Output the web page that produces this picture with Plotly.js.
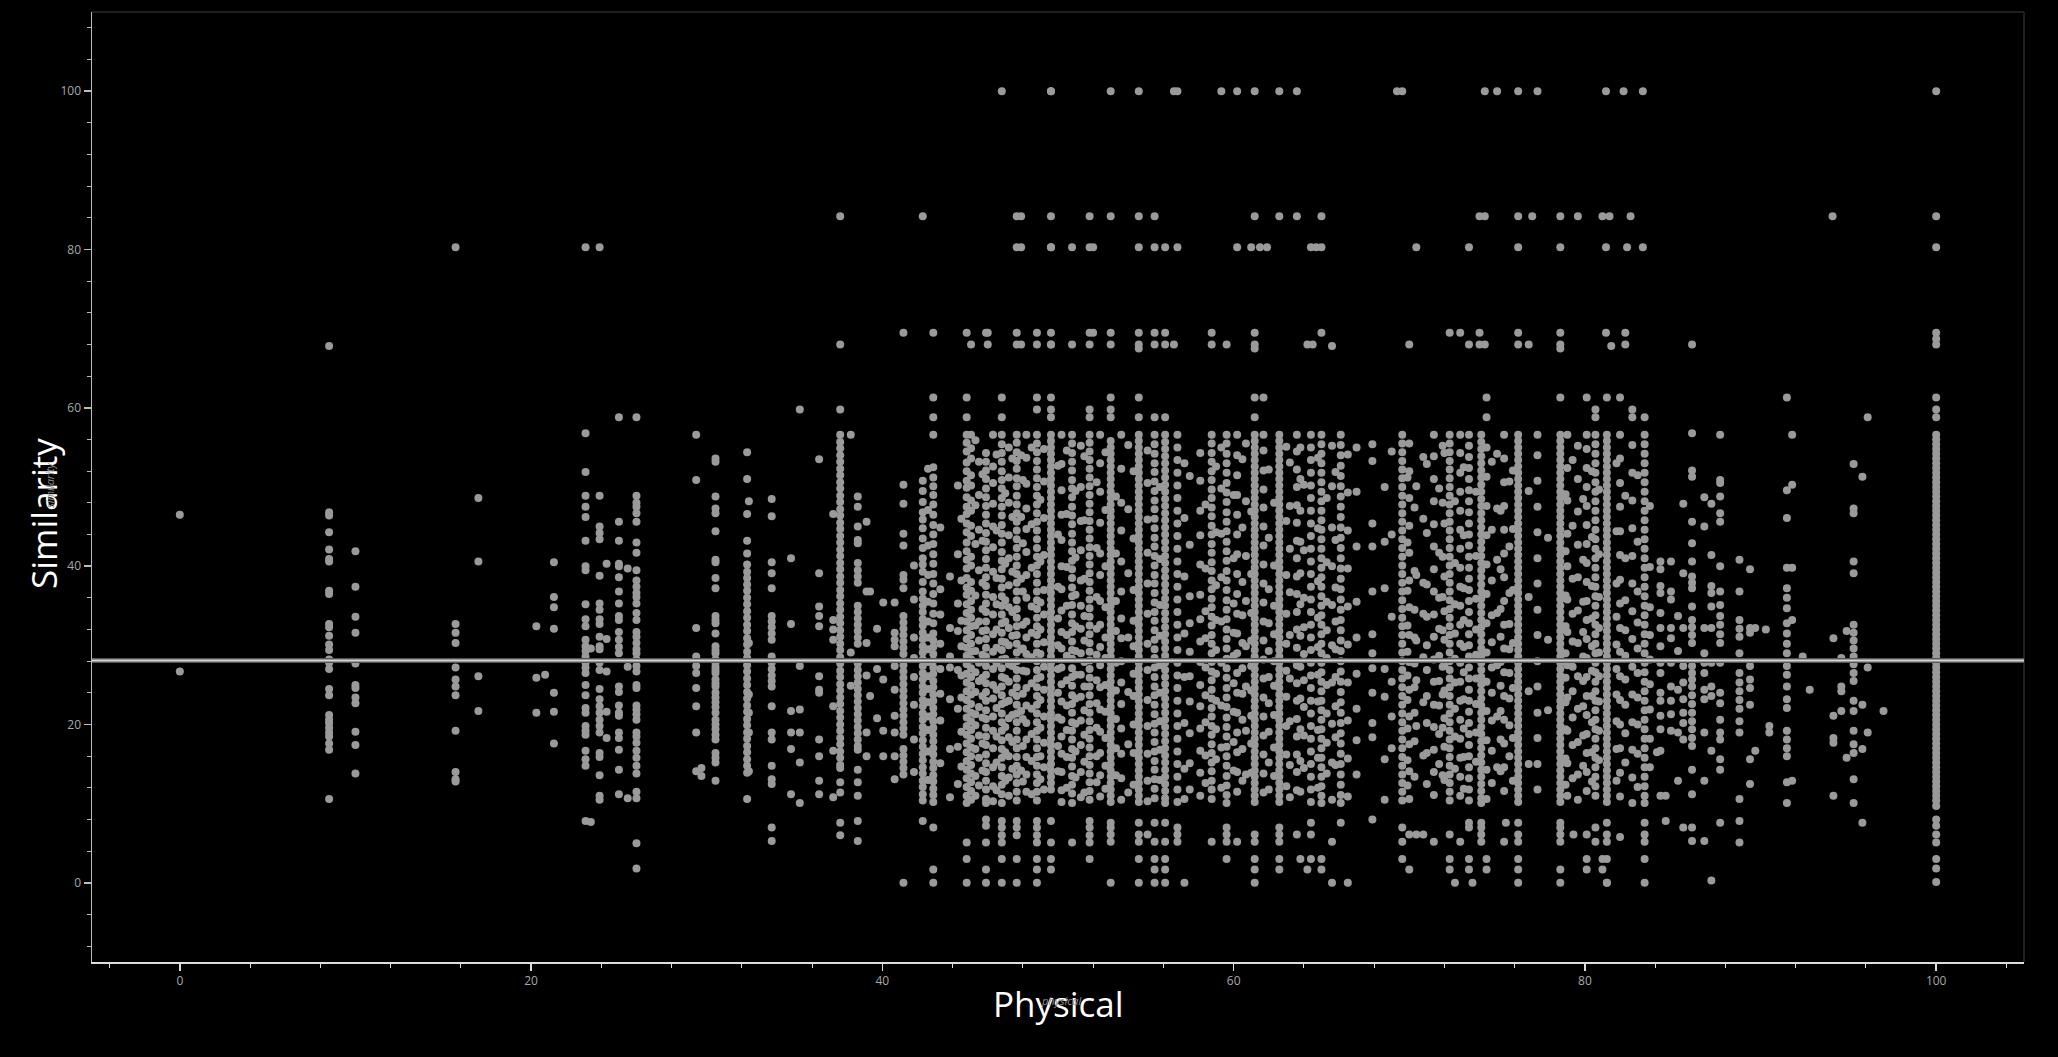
<!DOCTYPE html>
<html>
<head>
<meta charset="utf-8">
<script src="https://cdn.plot.ly/plotly-3.0.1.min.js"></script>
<style>
  html, body { margin: 0; padding: 0; background: #000; }
  #myDiv { width: 2058px; height: 1057px; }
</style>
</head>
<body>
<div id="myDiv"></div>
<script>
// Each column: [Physical value, "Similarity values in that column"]
// sparse left part of the chart
var leftCols = [
  [0, "46.5 26.7"],
  [8.5, "67.8 46.8 46.4 44.3 42.1 40.9 40.6 36.9 36.5 32.7 32.3 31.2 30.1 29.4 28.2 27.8 27.0 24.5 23.7 21.2 20.6 20.2 19.6 19.0 18.5 17.6 16.8 10.6"],
  [10.0, "41.9 37.4 33.6 31.6 27.7 25.0 24.6 23.4 22.7 19.1 17.4 13.8"],
  [15.7, "80.3 32.7 31.6 30.3 27.2 25.7 24.8 23.7 19.2 14.0 13.1 12.8"],
  [17.0, "48.6 40.6 26.1 21.7"],
  [20.3, "32.4 25.9 21.5"],
  [20.8, "26.3"],
  [21.3, "40.5 36.1 34.8 32.1 24.0 21.6 17.6"],
  [23.1, "80.3 56.8 51.9 48.9 47.5 46.2 43.2 40.0 39.5 35.2 33.3 32.4 30.7 29.9 29.3 28.6 27.8 27.2 26.5 25.0 23.7 22.1 21.5 19.8 19.2 18.7 16.7 15.6 14.8 7.8"],
  [23.4, "7.7 29.6"],
  [23.9, "80.3 48.9 45.0 44.2 43.4 38.8 35.3 34.5 33.3 32.7 31.1 29.9 29.5 27.8 26.9 24.5 23.2 22.3 21.5 20.6 19.8 19.0 16.4 15.9 13.6 11.0 10.5"],
  [24.3, "40.3 30.8 26.7 21.6 18.3"],
  [25.0, "58.8 45.6 43.2 40.3 40.0 38.6 36.8 35.3 33.7 33.2 31.7 30.7 29.8 29.0 24.8 24.1 22.4 21.5 21.1 19.0 18.3 16.8 14.3 11.2"],
  [25.5, "39.7 27.3 10.7"],
  [26.0, "58.8 48.9 48.0 47.5 46.7 45.6 43.0 41.7 39.5 38.2 37.4 36.6 36.1 35.3 34.1 33.2 31.7 31.1 30.3 29.5 29.0 28.2 27.4 26.7 25.0 24.6 22.4 21.9 21.3 20.6 19.0 18.5 17.7 16.7 15.8 14.8 13.8 11.5 10.7 5.0 1.8"]
];

// 29 - 44
var midCols = [
  [29.4, "56.6 50.9 32.2 28.6 27.4 26.5 24.6 22.3 19.0 14.1"],
  [29.7, "14.5 13.5"],
  [30.5, "53.6 53.2 48.8 47.3 46.7 44.4 40.8 40.5 38.5 37.2 33.7 33.2 32.8 31.5 29.9 29.4 29.0 28.2 27.8 27.3 26.9 26.5 25.7 25.2 24.8 24.0 23.4 22.8 22.2 21.5 20.6 20.0 19.4 18.7 18.1 16.4 15.8 15.2 12.9"],
  [32.3, "54.4 51.0 46.6 43.2 41.6 40.2 39.3 38.5 37.7 36.9 36.0 35.2 34.3 33.5 32.6 31.8 30.9 30.1 29.2 28.4 27.5 26.7 25.8 25.0 24.1 23.3 22.4 21.6 20.7 19.9 19.0 18.2 17.3 16.5 15.6 14.8 13.9 10.6"],
  [32.4, "48.2 30.3 23.8 21.5 19.0 14.1"],
  [33.7, "48.5 46.3 40.5 39.1 37.2 33.7 33.0 32.3 31.5 30.7 28.6 27.8 27.0 26.2 25.5 24.8 22.3 19.0 18.1 14.8 13.1 12.5 7.0 5.3"],
  [34.8, "41.0 32.7 21.7 19.0 16.9 11.2"],
  [35.3, "59.8 27.4 21.9 19.0 15.2 10.1"],
  [36.4, "53.5 39.1 34.9 33.7 32.4 26.1 24.4 24.0 18.1 16.0 12.9 11.2"],
  [37.2, "46.6 33.2 32.0 30.7 22.3 16.7 10.8"],
  [37.6, "84.2 68.0 59.8 56.6 55.7 54.9 54.0 53.2 52.3 51.5 50.6 49.8 48.9 48.1 47.2 46.4 45.5 44.7 43.8 43.0 42.1 41.3 40.4 39.6 38.7 37.9 37.0 36.2 35.3 34.5 33.6 32.8 31.9 31.1 30.2 29.4 28.5 27.7 26.8 26.0 25.1 24.3 23.4 22.6 21.7 20.9 20.0 19.2 18.3 17.5 16.6 15.8 14.9 14.5 12.7 11.4 7.6 6.0"],
  [38.2, "56.6 29.1 24.9"],
  [38.6, "48.8 47.5 45.0 43.3 42.9 40.4 39.5 38.7 37.9 35.0 34.2 33.4 32.6 31.8 31.0 30.2 27.7 26.9 26.1 25.3 24.5 23.7 22.9 22.1 21.3 20.5 19.7 18.9 18.1 17.3 16.8 14.3 12.7 11.0 7.8 5.3"],
  [39.1, "45.6 36.8 30.3 26.2 19.0 16.0"],
  [39.3, "36.8 23.6"],
  [39.7, "32.1 27.0 20.8"],
  [40.05, "35.4 25.7 19.2 16.0"],
  [40.7, "35.4 31.6 30.7 29.9 27.4 24.4 21.1 19.0 16.0 13.1"],
  [41.2, "69.5 50.3 47.9 44.1 42.6 38.9 38.3 37.2 33.7 32.9 32.1 31.3 30.5 29.7 28.9 27.5 26.7 25.9 25.1 24.3 23.5 22.7 21.9 21.1 20.3 19.5 18.7 16.9 16.1 15.3 14.5 13.7 0.0"],
  [41.8, "40.1 35.8 31.0 28.4 26.0 22.5 18.1 14.0"],
  [42.3, "84.2 50.8 49.5 48.1 46.8 45.9 44.8 43.5 42.3 41.0 40.2 39.3 38.0 36.8 35.9 35.0 34.2 33.3 32.5 31.6 30.8 29.9 29.1 28.2 27.4 26.5 25.7 24.8 24.0 23.1 22.3 21.4 20.6 19.7 18.9 18.0 17.2 16.3 15.5 14.6 13.8 12.9 12.1 11.2 10.4 7.8"],
  [42.6, "52.3 47.1 42.6 38.9 35.5 33.0 31.0 29.5 27.9 26.1 24.5 22.8 21.0 19.3 16.6 13.0"],
  [42.9, "69.5 61.3 58.8 56.6 52.5 51.2 50.1 49.0 47.8 46.5 45.2 44.0 42.8 41.5 40.3 39.0 37.8 36.5 35.3 34.0 32.8 31.5 30.6 29.8 28.9 28.1 27.2 26.4 25.5 24.7 23.8 23.0 22.1 21.3 20.4 19.6 18.7 17.9 17.0 16.2 15.3 14.5 13.6 12.8 11.9 11.1 10.2 7.0 1.7 0.0"],
  [43.3, "44.9 37.1 33.9 30.2 27.0 23.9 20.5 15.1"],
  [43.85, "38.7 32.2 28.6 27.2 23.2 16.9 10.8"],
  [44.3, "50.2 41.5 35.3 31.8 26.9 22.0 17.2 12.5"]
];

// dense band 44 - 84
var denseCols = [
  [44.8, "69.5 61.3 58.8 56.6 55.6 54.5 53.1 52.0 50.8 49.9 48.7 47.5 46.6 45.4 44.3 43.0 41.9 40.8 39.7 38.5 37.3 36.4 35.2 34.1 33.0 31.9 30.8 29.7 28.7 27.6 26.4 25.3 24.2 23.1 22.0 20.9 19.8 18.7 17.6 16.5 15.4 14.3 13.2 12.1 11.0 10.1 5.1 3.0 0.0"],
  [45.05, "68.0 56.6 54.9 53.6 51.5 50.2 48.3 47.0 45.1 43.8 41.2 40.1 38.0 36.9 35.6 34.5 33.5 32.4 31.3 30.2 29.2 28.2 27.1 26.0 24.9 23.8 22.6 21.5 20.4 19.3 18.2 17.1 16.0 14.9 13.8 12.7 11.6 10.5"],
  [45.5, "53.2 49.0 44.6 39.5 33.0 30.6 27.8 25.5 22.2 18.6 15.8 12.3"],
  [45.9, "69.5 54.3 53.2 52.1 51.0 49.8 48.7 47.6 46.5 45.4 44.2 43.1 42.0 40.9 39.8 38.6 37.5 36.4 35.3 34.2 33.0 31.9 30.8 29.7 28.6 27.4 26.3 25.2 24.1 23.0 21.8 20.7 19.6 18.5 17.4 16.2 15.1 14.0 12.9 11.8 10.6 10.1 8.0 7.2 5.1 1.7 0.0"],
  [46.0, "69.5 68.0"],
  [46.3, "56.6 52.6 50.5 47.9 45.0 42.4 39.3 36.1 33.9 31.4 29.2 27.0 25.0 23.3 21.0 19.2 17.0 14.6 12.2 10.3"],
  [46.8, "100 61.3 58.8 56.6 55.4 54.3 53.2 52.0 50.9 49.8 48.6 47.5 46.4 45.2 44.1 43.0 41.8 40.7 39.6 38.4 37.3 36.2 35.0 33.9 32.8 31.6 30.5 29.4 28.2 27.1 26.0 24.8 23.7 22.6 21.4 20.3 19.2 18.0 16.9 15.8 14.6 13.5 12.4 11.2 10.1 7.8 7.0 6.0 5.1 3.0 0.0"],
  [47.2, "55.0 51.2 48.0 43.9 41.0 37.6 34.8 32.2 30.0 27.6 25.4 23.0 20.8 18.4 16.0 13.3 11.0"],
  [47.65, "84.2 80.3 69.5 68.0 56.6 55.6 54.4 53.3 52.3 51.1 50.1 48.9 47.8 46.7 45.6 44.5 43.4 42.3 41.2 40.1 39.0 37.9 36.8 35.7 34.6 33.5 32.4 31.3 30.2 29.1 28.0 26.9 25.8 24.7 23.6 22.5 21.4 20.3 19.2 18.1 17.0 15.9 14.8 13.7 12.6 11.5 10.4 7.8 7.0 6.0 3.0 0.0"],
  [47.9, "84.2 80.3 68.0 54.0 46.2 38.4 29.5 21.7 14.2"],
  [48.2, "56.6 53.7 50.4 47.3 44.7 41.8 38.9 36.0 33.0 31.0 28.9 26.7 24.6 22.4 20.2 18.1 15.9 13.7 11.5"],
  [48.8, "69.5 68.0 61.3 59.8 56.6 55.5 54.4 53.3 52.2 51.1 50.0 48.9 47.8 46.7 45.6 44.5 43.4 42.3 41.2 40.1 39.0 37.9 36.8 35.7 34.6 33.5 32.4 31.3 30.2 29.1 28.0 26.9 25.8 24.7 23.6 22.5 21.4 20.3 19.2 18.1 17.0 15.9 14.8 13.7 12.6 11.5 10.4 7.8 7.0 6.0 5.1 3.0 1.7 0.0"],
  [49.2, "54.8 50.7 46.1 41.4 37.0 33.9 30.4 27.3 24.4 21.0 17.7 14.6 11.8"],
  [49.6, "100 100 84.2 80.3 80.3 69.5 68.0 68.0 61.3 59.8 58.8 56.6 55.8 55.0 54.2 53.4 52.6 51.8 51.0 50.2 49.4 48.6 47.8 47.0 46.2 45.4 44.6 43.8 43.0 42.2 41.4 40.6 39.8 39.0 38.2 37.4 36.6 35.8 35.0 34.2 33.4 32.6 31.8 31.0 30.2 29.4 28.6 27.8 27.0 26.2 25.4 24.6 23.8 23.0 22.2 21.4 20.6 19.8 19.0 18.2 17.4 16.6 15.8 15.0 14.2 13.4 12.6 11.8 7.8 5.1 3.0 1.7"],
  [50.2, "56.6 52.9 49.6 46.5 43.3 40.0 37.1 34.4 31.7 29.6 27.2 25.1 22.9 20.6 18.5 16.3 14.0 11.7 10.2"],
  [50.8, "80.3 68.0 56.6 55.5 54.3 53.2 52.1 50.9 49.8 48.7 47.5 46.4 45.3 44.1 43.0 41.9 40.7 39.6 38.5 37.3 36.2 35.1 33.9 32.8 31.7 30.5 29.4 28.3 27.1 26.0 24.9 23.7 22.6 21.5 20.3 19.2 18.1 16.9 15.8 14.7 13.5 12.4 11.3 10.1 5.1"],
  [51.3, "55.2 50.0 45.7 42.0 38.2 35.0 32.1 29.0 26.3 23.5 20.5 17.4 14.0 10.8"],
  [51.8, "84.2 80.3 69.5 68.0 59.8 58.8 56.6 55.6 54.5 53.4 52.3 51.2 50.1 49.0 47.9 46.8 45.7 44.6 43.5 42.4 41.3 40.2 39.1 38.0 36.9 35.8 34.7 33.6 32.5 31.4 30.3 29.2 28.1 27.0 25.9 24.8 23.7 22.6 21.5 20.4 19.3 18.2 17.1 16.0 14.9 13.8 12.7 11.6 10.5 7.8 7.0 6.0 5.1 3.0"],
  [52.0, "80.3 69.5"],
  [52.4, "56.6 53.0 49.4 45.5 41.6 38.9 35.6 32.6 29.8 27.5 24.7 21.9 19.1 16.4 13.6 10.9"],
  [53.0, "100 84.2 69.5 68.0 61.3 59.8 58.8 55.8 55.0 54.2 53.4 52.6 51.8 51.0 50.2 49.4 48.6 47.8 47.0 46.2 45.4 44.6 43.8 43.0 42.2 41.4 40.6 39.8 39.0 38.2 37.4 36.6 35.8 35.0 34.2 33.4 32.6 31.8 31.0 30.2 29.4 28.6 27.8 27.0 26.2 25.4 24.6 23.8 23.0 22.2 21.4 20.6 19.8 19.0 18.2 17.4 16.6 15.8 15.0 14.2 13.4 12.6 11.8 11.0 10.2 7.6 7.0 6.1 5.2 0.0"],
  [53.6, "56.6 52.3 48.0 44.5 40.6 36.8 33.4 30.9 28.0 25.3 22.6 19.5 16.3 13.2 10.5"],
  [54.0, "55.3 47.2 39.1 31.0 24.1 17.5 11.4"],
  [54.6, "100 84.2 80.3 69.5 68.0 67.5 61.3 58.8 56.6 55.8 55.0 54.2 53.4 52.6 51.8 51.0 50.2 49.4 48.6 47.8 47.0 46.2 45.4 44.6 43.8 43.0 42.2 41.4 40.6 39.8 39.0 38.2 37.4 36.6 35.8 35.0 34.2 33.4 32.6 31.8 31.0 30.2 29.4 28.6 27.8 27.0 26.2 25.4 24.6 23.8 23.0 22.2 21.4 20.6 19.8 19.0 18.2 17.4 16.6 15.8 15.0 14.2 13.4 12.6 11.8 11.0 10.2 7.6 6.1 5.2 3.0 0.0"],
  [55.1, "54.6 50.5 45.9 41.7 37.8 34.0 30.2 26.9 23.1 19.8 16.3 12.9 10.3 6.1"],
  [55.5, "84.2 80.3 69.5 68.0 58.8 56.6 55.4 54.2 53.0 51.9 50.7 49.5 48.3 47.2 46.0 44.8 43.6 42.5 41.3 40.1 38.9 37.8 36.6 35.4 34.2 33.1 31.9 30.7 29.5 28.4 27.2 26.0 24.8 23.7 22.5 21.3 20.1 19.0 17.8 16.6 15.4 14.3 13.1 11.9 10.7 7.6 5.2 3.0 1.7 0.0"],
  [56.1, "80.3 69.5 68.0 58.8 56.6 55.7 54.8 53.9 53.0 52.1 51.2 50.3 49.4 48.5 47.6 46.7 45.8 44.9 44.0 43.1 42.2 41.3 40.4 39.5 38.6 37.7 36.8 35.9 35.0 34.1 33.2 32.3 31.4 30.5 29.6 28.7 27.8 26.9 26.0 25.1 24.2 23.3 22.4 21.5 20.6 19.7 18.8 17.9 17.0 16.1 15.2 14.3 13.4 12.5 11.6 10.7 10.1 7.6 5.2 3.0 1.7 0.0"],
  [56.6, "100 68.0"],
  [56.8, "100 80.3 56.6 55.0 53.4 51.8 50.2 48.6 47.0 45.4 43.8 42.2 40.6 39.0 37.4 35.8 34.2 32.6 31.0 29.4 27.8 26.2 24.6 23.0 21.4 19.8 18.2 16.6 15.0 13.4 11.8 10.2 7.0 6.1 5.2"],
  [57.2, "53.0 46.1 38.7 31.5 26.0 20.2 14.4 10.6 0.0"],
  [58.1, "54.3 50.8 47.0 43.9 40.2 36.4 33.3 30.5 27.9 25.0 22.3 19.5 16.7 13.9 11.0"],
  [58.75, "69.5 68.0 56.6 55.5 54.3 53.2 52.0 50.9 49.7 48.6 47.4 46.3 45.1 44.0 42.8 41.7 40.5 39.4 38.2 37.1 35.9 34.8 33.6 32.5 31.3 30.2 29.0 27.9 26.7 25.6 24.4 23.3 22.1 21.0 19.8 18.7 17.5 16.4 15.2 14.1 12.9 11.8 10.6 5.2"],
  [59.3, "100 55.0 49.8 44.1 38.6 33.0 27.8 22.4 17.1 12.0"],
  [59.6, "68.0 56.6 55.5 54.2 53.0 51.8 50.5 49.3 48.1 46.8 45.6 44.4 43.1 41.9 40.7 39.4 38.2 37.0 35.7 34.5 33.3 32.0 30.8 29.6 28.3 27.1 25.9 24.6 23.4 22.2 20.9 19.7 18.5 17.2 16.0 14.8 13.5 12.3 11.1 10.1 7.0 6.1 5.2 3.0"],
  [60.2, "100 80.3 56.6 54.0 51.5 49.0 46.5 44.0 41.5 39.0 36.5 34.0 31.5 29.0 26.5 24.0 21.5 19.0 16.5 14.0 11.5 5.2"],
  [60.7, "55.5 48.2 41.3 35.6 29.9 24.8 19.2 13.7"],
  [61.0, "80.3"],
  [61.2, "100 84.2 69.5 68.0 67.5 61.3 58.8 56.6 55.8 55.0 54.2 53.4 52.6 51.8 51.0 50.2 49.4 48.6 47.8 47.0 46.2 45.4 44.6 43.8 43.0 42.2 41.4 40.6 39.8 39.0 38.2 37.4 36.6 35.8 35.0 34.2 33.4 32.6 31.8 31.0 30.2 29.4 28.6 27.8 27.0 26.2 25.4 24.6 23.8 23.0 22.2 21.4 20.6 19.8 19.0 18.2 17.4 16.6 15.8 15.0 14.2 13.4 12.6 11.8 11.0 10.2 6.1 5.2 3.0 1.7 0.0"],
  [61.5, "80.3"],
  [61.7, "61.3 56.6 54.6 52.1 49.7 47.4 45.0 42.6 40.2 37.8 35.4 33.0 30.6 28.2 25.8 23.4 21.0 18.6 16.2 13.8 11.4"],
  [61.9, "80.3"],
  [62.6, "100 84.2 56.6 55.8 55.0 54.2 53.4 52.6 51.8 51.0 50.2 49.4 48.6 47.8 47.0 46.2 45.4 44.6 43.8 43.0 42.2 41.4 40.6 39.8 39.0 38.2 37.4 36.6 35.8 35.0 34.2 33.4 32.6 31.8 31.0 30.2 29.4 28.6 27.8 27.0 26.2 25.4 24.6 23.8 23.0 22.2 21.4 20.6 19.8 19.0 18.2 17.4 16.6 15.8 15.0 14.2 13.4 12.6 11.8 11.0 10.2 7.0 6.1 5.2 3.0 1.7"],
  [63.2, "53.1 47.6 42.2 36.7 31.3 25.8 20.4 14.9 10.8"],
  [63.6, "100 84.2 56.6 54.5 52.2 50.0 47.7 45.5 43.2 41.0 38.7 36.5 34.2 32.0 29.7 27.5 25.2 23.0 20.7 18.5 16.2 14.0 11.7 6.1"],
  [63.8, "55.0 51.0 47.0 43.1 39.1 35.2 31.2 27.3 23.3 19.4 15.4 11.5 3.0"],
  [64.2, "68.0 1.7"],
  [64.4, "80.3 56.6 55.0 53.4 51.8 50.2 48.6 47.0 45.4 43.8 42.2 40.6 39.0 37.4 35.8 34.2 32.6 31.0 29.4 27.8 26.2 24.6 23.0 21.4 19.8 18.2 16.6 15.0 13.4 11.8 10.2 7.6 6.1 3.0"],
  [64.5, "68.0"],
  [64.7, "80.3"],
  [65.0, "84.2 80.3 69.5 56.6 55.4 54.2 53.0 51.8 50.6 49.4 48.2 47.0 45.8 44.6 43.4 42.2 41.0 39.8 38.6 37.4 36.2 35.0 33.8 32.6 31.4 30.2 29.0 27.8 26.6 25.4 24.2 23.0 21.8 20.6 19.4 18.2 17.0 15.8 14.6 13.4 12.2 11.0 10.1 3.0 1.7"],
  [65.6, "67.8 55.2 50.1 44.9 40.0 35.1 30.0 25.3 20.1 15.2 10.5 5.2 0.0"],
  [66.1, "56.6 55.3 54.0 52.7 51.4 50.1 48.8 47.5 46.2 44.9 43.6 42.3 41.0 39.7 38.4 37.1 35.8 34.5 33.2 31.9 30.6 29.3 28.0 26.7 25.4 24.1 22.8 21.5 20.2 18.9 17.6 16.3 15.0 13.7 12.4 11.1 10.1 7.6"],
  [66.5, "54.1 49.3 44.5 39.7 34.9 30.1 25.3 20.5 15.7 10.9 0.0"],
  [67.0, "55.0 49.4 42.5 35.5 31.0 26.4 22.0 18.0 13.7"],
  [67.9, "55.4 53.3 45.4 42.5 36.8 31.4 29.0 27.1 24.0 20.2 18.4 8.0"],
  [68.6, "50.0 43.1 37.2 27.0 23.5 15.6 10.5"],
  [69.0, "54.5 44.0 33.6 25.4 21.0 17.0"],
  [69.3, "100"],
  [69.6, "100 56.6 55.5 54.4 53.3 52.2 51.1 50.0 48.9 47.8 46.7 45.6 44.5 43.4 42.3 41.2 40.1 39.0 37.9 36.8 35.7 34.6 33.5 32.4 31.3 30.2 29.1 28.0 26.9 25.8 24.7 23.6 22.5 21.4 20.3 19.2 18.1 17.0 15.9 14.8 13.7 12.6 11.5 10.4 7.0 5.2 3.0"],
  [70.0, "68.0 55.5 52.0 48.6 45.1 41.7 38.2 34.8 31.3 27.9 24.4 21.0 17.5 14.1 10.6 6.1 1.7"],
  [70.4, "80.3 50.1 38.9 30.6 25.6 19.8 6.1"],
  [70.8, "53.8 46.0 37.9 34.0 28.5 22.8 16.1 6.1"],
  [71.4, "56.6 53.9 51.0 48.2 45.3 42.5 39.6 36.8 33.9 31.1 28.2 25.4 22.5 19.7 16.8 14.0 11.1 5.2"],
  [71.9, "55.2 48.0 41.2 36.1 31.9 27.3 23.8 19.6 13.6"],
  [72.3, "69.5 56.6 55.5 54.4 53.3 52.2 51.1 50.0 48.9 47.8 46.7 45.6 44.5 43.4 42.3 41.2 40.1 39.0 37.9 36.8 35.7 34.6 33.5 32.4 31.3 30.2 29.1 28.0 26.9 25.8 24.7 23.6 22.5 21.4 20.3 19.2 18.1 17.0 15.9 14.8 13.7 12.6 11.5 10.4 6.1 3.0 1.7"],
  [72.6, "0.0"],
  [72.9, "69.5 56.6 54.3 51.8 49.4 47.0 44.6 42.2 39.8 37.4 35.0 32.6 30.2 27.8 25.4 23.0 20.6 18.2 15.8 13.4 11.0 5.2"],
  [73.4, "80.3 68.0 56.6 55.2 53.8 52.4 51.0 49.6 48.2 46.8 45.4 44.0 42.6 41.2 39.8 38.4 37.0 35.6 34.2 32.8 31.4 30.0 28.6 27.2 25.8 24.4 23.0 21.6 20.2 18.8 17.4 16.0 14.6 13.2 11.8 10.4 7.6 7.0 3.0 1.7"],
  [73.6, "0.0"],
  [74.0, "84.2 69.5 68.0"],
  [74.1, "56.6 55.7 54.8 53.9 53.0 52.1 51.2 50.3 49.4 48.5 47.6 46.7 45.8 44.9 44.0 43.1 42.2 41.3 40.4 39.5 38.6 37.7 36.8 35.9 35.0 34.1 33.2 32.3 31.4 30.5 29.6 28.7 27.8 26.9 26.0 25.1 24.2 23.3 22.4 21.5 20.6 19.7 18.8 17.9 17.0 16.1 15.2 14.3 13.4 12.5 11.6 10.7 10.1 7.6 7.0 6.1 5.2"],
  [74.3, "100 84.2 68.0"],
  [74.4, "61.3 58.8 55.0 51.3 47.6 43.9 40.2 36.5 32.8 29.1 25.4 21.7 18.0 14.3 10.6 3.0 1.7"],
  [75.0, "100 54.2 47.3 40.8 34.1 27.5 21.0 14.6"],
  [75.4, "56.6 53.6 50.6 47.6 44.6 41.6 38.6 35.6 32.6 29.6 26.6 23.6 20.6 17.6 14.6 11.6 5.2"],
  [75.5, "7.6"],
  [75.9, "52.1 44.7 37.0 30.3 24.6 18.3 12.9"],
  [76.2, "100 84.2 80.3 69.5 68.0 56.6 55.8 55.0 54.2 53.4 52.6 51.8 51.0 50.2 49.4 48.6 47.8 47.0 46.2 45.4 44.6 43.8 43.0 42.2 41.4 40.6 39.8 39.0 38.2 37.4 36.6 35.8 35.0 34.2 33.4 32.6 31.8 31.0 30.2 29.4 28.6 27.8 27.0 26.2 25.4 24.6 23.8 23.0 22.2 21.4 20.6 19.8 19.0 18.2 17.4 16.6 15.8 15.0 14.2 13.4 12.6 11.8 11.0 10.2 7.6 6.1 5.2 3.0 1.7 0.0"],
  [76.8, "68.0 49.5 36.1 24.2 15.0"],
  [77.0, "84.2"],
  [77.3, "100 56.6 54.0 50.8 47.5 44.3 41.0 37.8 34.5 31.3 28.0 24.8 21.5 18.3 15.0 11.8"],
  [77.9, "43.6 30.7 21.8"],
  [78.6, "84.2 80.3 69.5 68.0 67.5 61.3 56.6 55.8 55.0 54.2 53.4 52.6 51.8 51.0 50.2 49.4 48.6 47.8 47.0 46.2 45.4 44.6 43.8 43.0 42.2 41.4 40.6 39.8 39.0 38.2 37.4 36.6 35.8 35.0 34.2 33.4 32.6 31.8 31.0 30.2 29.4 28.6 27.8 27.0 26.2 25.4 24.6 23.8 23.0 22.2 21.4 20.6 19.8 19.0 18.2 17.4 16.6 15.8 15.0 14.2 13.4 12.6 11.8 11.0 10.2 7.6 7.0 6.1 5.2 1.7 0.0"],
  [79.0, "56.6 52.4 48.3 44.1 40.0 35.8 31.7 27.5 23.4 19.2 15.1 11.0"],
  [79.35, "6.1"],
  [79.6, "84.2 55.2 51.0 46.9 42.7 38.6 34.4 30.3 26.1 22.0 17.8 13.7 10.5"],
  [80.1, "61.3 56.6 54.8 52.4 50.0 47.6 45.2 42.8 40.4 38.0 35.6 33.2 30.8 28.4 26.0 23.6 21.2 18.8 16.4 14.0 11.6 6.1 3.0 1.7"],
  [80.6, "59.8 58.8 56.6 55.4 54.2 53.0 51.8 50.6 49.4 48.2 47.0 45.8 44.6 43.4 42.2 41.0 39.8 38.6 37.4 36.2 35.0 33.8 32.6 31.4 30.2 29.0 27.8 26.6 25.4 24.2 23.0 21.8 20.6 19.4 18.2 17.0 15.8 14.6 13.4 12.2 11.0 7.0 5.2"],
  [81.0, "84.2 3.0 1.7"],
  [81.2, "100 80.3 69.5"],
  [81.25, "61.3 56.6 55.8 55.0 54.2 53.4 52.6 51.8 51.0 50.2 49.4 48.6 47.8 47.0 46.2 45.4 44.6 43.8 43.0 42.2 41.4 40.6 39.8 39.0 38.2 37.4 36.6 35.8 35.0 34.2 33.4 32.6 31.8 31.0 30.2 29.4 28.6 27.8 27.0 26.2 25.4 24.6 23.8 23.0 22.2 21.4 20.6 19.8 19.0 18.2 17.4 16.6 15.8 15.0 14.2 13.4 12.6 11.8 11.0 10.2 7.6 6.1 5.2 3.0 0.0 0.0"],
  [81.4, "84.2"],
  [81.5, "67.8"],
  [82.0, "61.3 56.6 53.6 50.5 47.5 44.4 41.4 38.3 35.3 32.2 29.2 26.1 23.1 20.0 17.0 13.9 10.9 5.8"],
  [82.2, "100"],
  [82.3, "69.5 68.0"],
  [82.4, "80.3"],
  [82.6, "84.2"],
  [82.7, "59.8 58.8 55.3 51.8 48.3 44.8 41.3 37.8 34.3 30.8 27.3 23.8 20.3 16.8 13.3 10.1"],
  [83.3, "100 80.3"],
  [83.4, "58.8 56.6 55.4 54.2 53.0 51.8 50.6 49.4 48.2 47.0 45.8 44.6 43.4 42.2 41.0 39.8 38.6 37.4 36.2 35.0 33.8 32.6 31.4 30.2 29.0 27.8 26.6 25.4 24.2 23.0 21.8 20.6 19.4 18.2 17.0 15.8 14.6 13.4 12.2 11.0 10.1 7.6 6.1 5.2 3.0 0.0"]
];

// extra points lying between the main columns, mostly around the 20-40 band
var fillCols = [
  [44.5, "46.0 38.2 33.1 29.9 26.2 23.4 19.1 14.7"],
  [45.3, "55.9 47.7 42.8 36.3 32.5 29.3 26.6 24.1 21.3 19.9 16.9 13.5 11.0"],
  [45.7, "51.6 43.2 37.9 34.6 31.8 28.8 25.9 23.6 20.9 17.6 14.2"],
  [46.5, "54.1 44.5 38.5 35.2 32.0 29.7 27.7 24.4 22.1 18.5 15.2 11.7"],
  [47.0, "49.2 40.3 35.7 33.0 30.4 28.3 25.8 22.8 19.7 16.5 12.9"],
  [47.4, "53.6 46.2 39.3 34.2 31.2 27.4 24.0 21.2 17.8 14.4"],
  [48.0, "50.9 42.9 36.8 32.6 29.6 26.8 23.9 20.7 17.3 12.8"],
  [48.5, "55.0 45.3 39.8 34.9 31.6 28.5 25.2 22.0 18.8 15.4 11.2"],
  [49.0, "48.4 40.6 35.4 32.0 28.9 26.0 23.1 19.6 16.0 13.1"],
  [50.0, "52.7 44.0 37.4 33.4 30.0 27.0 24.0 20.9 17.3 14.1"],
  [50.5, "54.6 46.6 39.9 35.0 31.3 28.7 25.6 22.4 19.3 15.9 12.0"],
  [51.0, "49.5 41.1 36.4 32.4 29.3 26.3 23.3 20.1 16.6 13.3"],
  [51.5, "53.9 45.8 38.4 33.7 30.6 27.9 24.8 21.8 18.7 15.3 11.4"],
  [52.2, "50.6 42.3 36.1 32.1 28.8 25.6 22.7 19.6 16.0 12.7"],
  [52.7, "54.4 47.1 40.0 34.8 31.0 28.4 25.0 21.6 18.3 14.8 11.9"],
  [53.3, "48.8 41.6 35.6 31.8 27.8 24.3 20.7 17.0 13.6"],
  [54.3, "52.0 43.5 37.0 33.1 29.9 26.4 23.6 20.0 16.4 12.4"],
  [55.8, "50.0 40.9 35.1 31.2 27.5 24.0 20.4 16.8 13.0"],
  [57.5, "51.4 42.7 36.2 32.8 29.2 26.1 22.9 18.9 15.1 11.8"],
  [58.4, "47.8 39.7 34.3 30.9 27.2 23.7 20.3 16.1 12.6"],
  [59.0, "52.6 44.3 37.6 33.2 29.4 26.4 23.0 19.4 15.6"],
  [60.0, "49.0 41.0 35.3 31.6 28.7 25.2 21.6 17.8 14.2"],
  [60.5, "53.5 44.9 38.0 33.8 30.3 27.1 23.9 20.6 16.9 12.9"],
  [61.0, "46.9 39.0 34.1 30.6 27.4 24.3 21.1 17.6 13.9"],
  [62.0, "52.2 43.6 37.1 32.8 29.3 26.0 22.7 19.1 15.2 11.8"],
  [62.3, "48.0 40.1 35.0 31.4 28.0 24.9 21.2 17.1 13.5"],
  [63.0, "55.1 45.7 38.9 34.0 30.2 26.8 23.5 19.8 16.2 12.2"],
  [64.0, "50.3 42.0 36.0 32.3 28.9 25.6 22.2 18.6 14.5"],
  [64.8, "53.7 44.8 38.1 33.5 29.8 26.3 22.9 19.3 15.8 12.0"],
  [65.3, "48.6 40.5 35.5 31.9 28.4 25.0 21.4 17.7 13.8"],
  [65.8, "51.9 43.3 37.3 33.0 29.5 26.0 22.3 18.4 14.9"],
  [69.9, "51.2 43.0 36.9 32.5 29.2 26.2 23.1 19.5 15.5 12.3"],
  [70.3, "47.4 39.4 34.5 31.0 27.7 24.7 21.5 17.9 13.4"],
  [71.0, "52.9 44.2 37.7 33.6 30.0 26.9 23.6 20.2 16.4 12.5"],
  [71.7, "49.8 41.7 36.0 32.1 28.7 25.5 22.4 18.8 15.0"],
  [72.0, "54.3 45.4 38.7 34.3 30.7 27.5 24.3 20.8 17.2 13.0"],
  [72.6, "48.2 40.4 35.2 31.5 28.3 25.3 22.0 18.5 14.4"],
  [73.1, "52.5 43.9 37.2 33.2 29.8 26.6 23.2 19.5 15.9 11.9"],
  [73.8, "49.4 41.3 35.9 32.0 28.8 25.8 22.6 19.0 15.3"],
  [74.7, "53.2 44.6 38.2 33.8 30.4 27.2 24.0 20.5 16.7 12.6"],
  [75.2, "47.0 39.6 34.6 31.1 27.9 24.9 21.7 18.1 14.1"],
  [75.7, "50.7 42.5 36.6 32.7 29.5 26.5 23.3 19.9 16.0"],
  [78.9, "49.1 41.9 36.3 32.4 29.0 25.9 22.8 19.4 15.7 12.4"],
  [79.3, "53.4 45.1 38.4 34.0 30.5 27.3 24.2 20.9 17.4 13.2"],
  [79.9, "48.5 40.8 35.5 31.7 28.6 25.5 22.3 18.6 14.8"],
  [80.4, "52.0 43.7 37.5 33.4 29.9 26.8 23.6 20.3 16.5 12.8"],
  [80.8, "49.7 41.5 36.1 32.2 29.1 26.1 22.9 19.2 15.5"],
  [81.8, "53.0 44.4 37.8 33.6 30.1 27.0 23.8 20.4 16.9 12.9"],
  [82.3, "48.9 41.0 35.7 31.9 28.7 25.7 22.5 18.9 15.2"],
  [83.0, "51.5 43.1 36.8 32.9 29.6 26.5 23.4 20.0 16.3 12.1"],
  [83.7, "47.6 39.9 34.8 31.3 28.2 25.1 21.9 18.2 14.6"]
];

// sparse right part and the 100 column
var rightCols = [
  [84.1, "16.5"],
  [84.3, "40.6 39.6 37.5 36.6 34.1 32.2 29.9 27.8 26.5 24.0 23.0 21.1 19.4 16.7 11.0"],
  [84.6, "11.0 7.8"],
  [84.9, "40.6 36.8 35.8 32.2 30.9 27.8 24.8 23.0 21.3 19.2"],
  [85.3, "33.7 29.3 24.4 19.0 12.9"],
  [85.6, "47.9 39.1 32.2 27.4 25.3 23.2 21.5 20.2 18.1 7.0"],
  [86.1, "68.0 56.8 52.1 51.3 45.6 42.9 40.6 38.7 37.9 37.2 34.9 33.2 32.3 31.3 30.3 27.4 26.5 25.7 24.8 23.7 22.6 21.5 20.4 19.4 18.3 17.3 14.3 11.2 7.0 5.3"],
  [86.8, "48.7 45.0 32.2 29.0 27.8 26.5 24.4 23.2 19.0 12.9 5.3"],
  [87.2, "47.9 41.4 37.5 36.6 34.9 32.2 27.8 24.8 23.6 16.7 0.3"],
  [87.7, "56.6 50.9 50.5 48.8 46.7 45.6 40.0 36.8 35.1 33.7 32.6 31.4 30.3 27.8 24.0 22.7 20.6 19.0 18.1 15.6 14.3 7.6"],
  [88.8, "40.8 36.8 33.2 32.1 31.1 29.0 26.5 25.3 24.2 23.1 22.0 20.4 19.0 10.6 7.8 5.1"],
  [89.4, "39.6 32.2 31.6 27.4 25.7 24.6 22.5 15.6 12.5"],
  [89.7, "32.2 16.7"],
  [90.3, "32.0"],
  [90.5, "19.8 19.0"],
  [91.5, "61.3 49.6 46.1 39.8 37.2 36.0 34.7 32.8 31.5 30.2 29.0 27.4 26.3 24.8 23.2 22.1 19.2 18.1 17.0 16.0 12.7 10.1"],
  [91.8, "56.6 50.3 39.8 33.2 12.9"],
  [92.4, "28.6"],
  [92.8, "24.4"],
  [94.1, "84.2"],
  [94.15, "30.9 21.1 18.3 17.7 11.0"],
  [94.6, "28.4 24.8 24.2 21.7"],
  [94.9, "31.8 15.8"],
  [95.3, "52.9 47.3 46.7 40.6 39.1 32.6 31.6 30.6 29.6 28.6 27.6 26.5 25.5 23.0 21.7 19.2 17.5 16.4 13.1 10.1"],
  [95.8, "51.3 22.5 16.9 7.6"],
  [96.1, "58.8 27.2 19.0"],
  [97.0, "21.7"],
  [100, "100 84.2 80.3 69.5 68.7 68.0 61.3 59.8 58.8 56.6 56.0 55.4 54.8 54.2 53.6 53.0 52.4 51.8 51.2 50.6 50.0 49.4 48.8 48.2 47.6 47.0 46.4 45.8 45.2 44.6 44.0 43.4 42.8 42.2 41.6 41.0 40.4 39.8 39.2 38.6 38.0 37.4 36.8 36.2 35.6 35.0 34.4 33.8 33.2 32.6 32.0 31.4 30.8 30.2 29.6 29.0 28.4 27.8 27.2 26.6 26.0 25.4 24.8 24.2 23.6 23.0 22.4 21.8 21.2 20.6 20.0 19.4 18.8 18.2 17.6 17.0 16.4 15.8 15.2 14.6 14.0 13.4 12.8 12.2 11.6 11.0 10.4 9.7 8.0 7.2 6.1 5.1 3.0 1.8 0.1"]
];

var meanSimilarity = 28.1;

var xs = [];
var ys = [];
[leftCols, midCols, denseCols, fillCols, rightCols].forEach(function (group) {
  group.forEach(function (col) {
    col[1].trim().split(/\s+/).forEach(function (v) {
      xs.push(col[0]);
      ys.push(parseFloat(v));
    });
  });
});

var data = [{
  type: "scatter",
  mode: "markers",
  x: xs,
  y: ys,
  marker: { size: 8, color: "#9a9a9a", line: { width: 0 } },
  hoverinfo: "skip"
}];

var tickFont = { family: "Open Sans, sans-serif", size: 12, color: "#a8a8a8" };

var layout = {
  width: 2058,
  height: 1057,
  margin: { l: 92, r: 34, t: 12, b: 95 },
  paper_bgcolor: "#000",
  plot_bgcolor: "#000",
  showlegend: false,
  hovermode: false,
  xaxis: {
    range: [-5, 105],
    tick0: 0, dtick: 20,
    ticks: "outside", ticklen: 7, tickwidth: 1.5, tickcolor: "#dddddd",
    minor: { dtick: 4, tick0: 0, ticks: "outside", ticklen: 4, tickwidth: 1, tickcolor: "#dddddd" },
    showline: true, linecolor: "#dddddd", linewidth: 1.5,
    showgrid: false, zeroline: false,
    tickfont: tickFont
  },
  yaxis: {
    range: [-10, 110],
    tick0: 0, dtick: 20,
    ticks: "outside", ticklen: 7, tickwidth: 1.5, tickcolor: "#bbbbbb",
    minor: { dtick: 4, tick0: 0, ticks: "outside", ticklen: 4, tickwidth: 1, tickcolor: "#bbbbbb" },
    showline: true, linecolor: "#bbbbbb", linewidth: 1.5,
    showgrid: false, zeroline: false,
    tickfont: tickFont
  },
  shapes: [
    { type: "line", xref: "paper", yref: "paper", x0: 0, x1: 1, y0: 1, y1: 1,
      line: { color: "#2a2a2a", width: 1.5 } },
    { type: "line", xref: "paper", yref: "paper", x0: 1, x1: 1, y0: 0, y1: 1,
      line: { color: "#2a2a2a", width: 1.5 } },
    { type: "line", xref: "paper", yref: "y", x0: 0, x1: 1, y0: meanSimilarity, y1: meanSimilarity,
      line: { color: "#555555", width: 5 } },
    { type: "line", xref: "paper", yref: "y", x0: 0, x1: 1, y0: meanSimilarity, y1: meanSimilarity,
      line: { color: "#d6d6d6", width: 2 } }
  ],
  annotations: [
    { xref: "paper", yref: "paper", x: 0.5, y: -0.044, xanchor: "center", yanchor: "middle",
      text: "Physical", showarrow: false,
      font: { family: "Open Sans, sans-serif", size: 35, color: "#ffffff" } },
    { xref: "paper", yref: "paper", x: 0.5015, y: -0.040, xanchor: "center", yanchor: "middle",
      text: "<i>physical</i>", showarrow: false,
      font: { family: "Open Sans, sans-serif", size: 11, color: "#8c8c8c" } },
    { xref: "paper", yref: "paper", x: -0.0254, y: 0.4726, xanchor: "center", yanchor: "middle",
      text: "Similarity", textangle: -90, showarrow: false,
      font: { family: "Open Sans, sans-serif", size: 35, color: "#ffffff" } },
    { xref: "paper", yref: "paper", x: -0.0223, y: 0.502, xanchor: "center", yanchor: "middle",
      text: "<i>similarity</i>", textangle: -90, showarrow: false,
      font: { family: "Open Sans, sans-serif", size: 11, color: "#8c8c8c" } }
  ]
};

Plotly.newPlot("myDiv", data, layout, { displayModeBar: false, staticPlot: true });
</script>
</body>
</html>
